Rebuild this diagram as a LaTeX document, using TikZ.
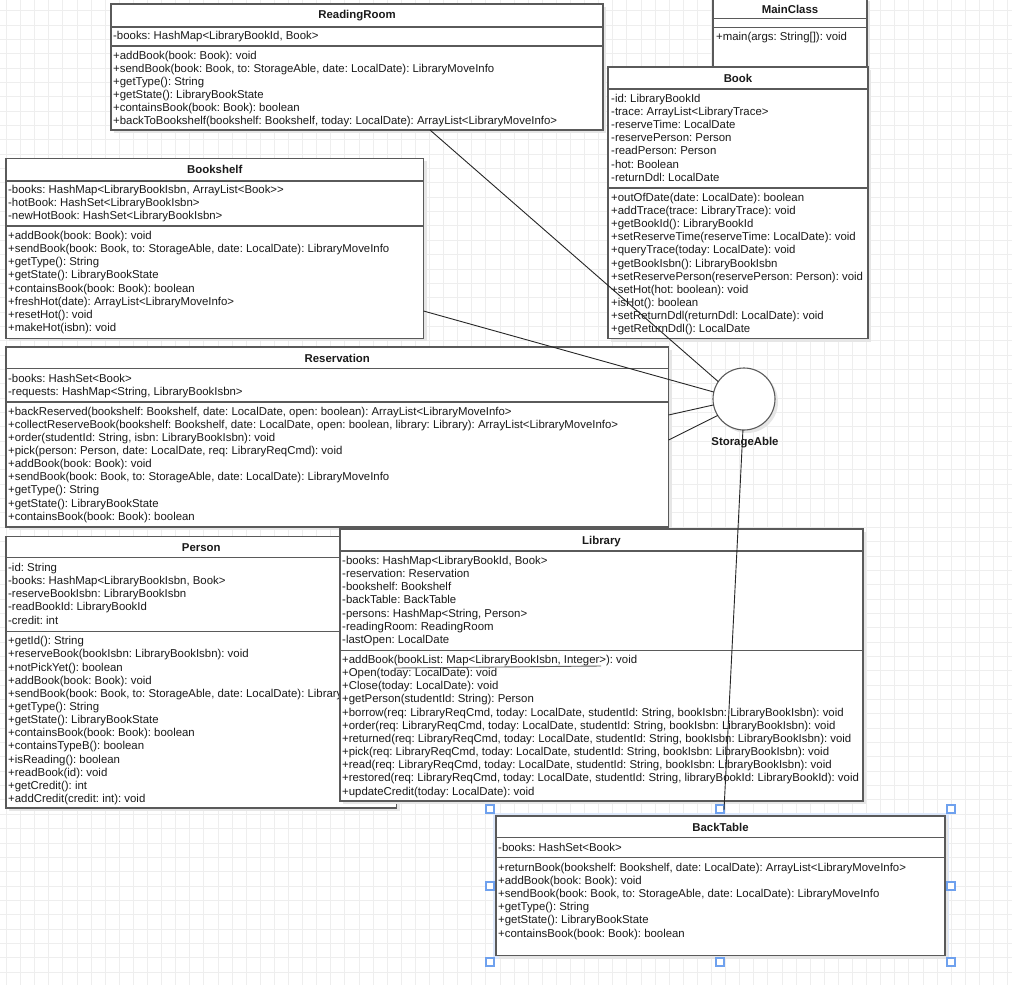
\documentclass[tikz,border=0pt]{standalone}
\usepackage{fontspec}
\setmainfont{Liberation Sans}
\frenchspacing
\usetikzlibrary{calc}
\definecolor{gridc}{HTML}{EEEEEE}
\definecolor{linec}{HTML}{5A5A5A}
\definecolor{txtc}{HTML}{1A1A1A}
\definecolor{shadc}{HTML}{E6E6E6}
\definecolor{selc}{HTML}{6FA1EE}
\definecolor{selhalo}{HTML}{DDE8FB}
\tikzset{
 boxc/.style={draw=linec, fill=white, line width=1.1pt, inner sep=0pt, outer sep=0pt},
 sepl/.style={draw=linec, line width=1.1pt},
 txt/.style={anchor=base west, inner sep=0pt, text=txtc, font=\fontsize{11.4}{13}\selectfont},
 ttl/.style={anchor=base, inner sep=0pt, text=txtc, font=\fontsize{11.4}{13}\selectfont\bfseries},
 conn/.style={draw=black!85, line width=0.9pt},
 handle/.style={draw=selc, fill=white, line width=1.3pt, minimum size=8pt, inner sep=0pt},
}
% name, x1, y1, x2, y2, title, sep1, sep2
\newcommand\umlbox[8]{%
 \fill[shadc] (#2+3,#3+3) rectangle (#4+3,#5+3);
 \node[boxc, anchor=north west, minimum width=#4-#2, minimum height=#5-#3] (#1) at (#2,#3) {};
 \node[ttl] (#1t) at ({(#2+#4)/2}, #3+15) {#6};
 \draw[sepl] (#2,#7) -- (#4,#7);
 \draw[sepl] (#2,#8) -- (#4,#8);
}
% prefix, x, first centre y, list
\newcommand\umllines[4]{%
 \foreach \t [count=\i from 0] in {#4} {\node[txt] (#1\i) at (#2, #3+4+13.15*\i) {\t};}%
}
\begin{document}
\begin{tikzpicture}[x=1pt,y=-1pt]
\useasboundingbox (0,0) rectangle (1012,985);
\fill[white] (0,0) rectangle (1012,985);
% grid
\foreach \k in {0,...,72} {\draw[gridc, line width=1pt] (880.7-14.1*\k+14.1*9,0) -- (880.7-14.1*\k+14.1*9,985);}
\foreach \k in {0,...,69} {\draw[gridc, line width=1pt] (0,10.7+14.35*\k-14.35) -- (1012,10.7+14.35*\k-14.35);}

% MainClass
\umlbox{mc}{713}{-2}{867}{67}{MainClass}{18.3}{27.3}
\umllines{mcm}{716}{36.7}{{+main(args: String[]): void}}

% Book
\umlbox{bk}{608}{67}{868}{338.5}{Book}{89}{188}
\umllines{bka}{611}{98.3}{{-id: LibraryBookId},{-trace: ArrayList<LibraryTrace>},{-reserveTime: LocalDate},{-reservePerson: Person},{-readPerson: Person},{-hot: Boolean},{-returnDdl: LocalDate}}
\umllines{bkm}{611}{197.3}{{+outOfDate(date: LocalDate): boolean},{+addTrace(trace: LibraryTrace): void},{+getBookId(): LibraryBookId},{+setReserveTime(reserveTime: LocalDate): void},{+queryTrace(today: LocalDate): void},{+getBookIsbn(): LibraryBookIsbn},{+setReservePerson(reservePerson: Person): void},{+setHot(hot: boolean): void},{+isHot(): boolean},{+setReturnDdl(returnDdl: LocalDate): void},{+getReturnDdl(): LocalDate}}

% ReadingRoom
\umlbox{rr}{111}{4}{603}{130}{ReadingRoom}{27}{46}
\umllines{rra}{113}{35.3}{{-books: HashMap<LibraryBookId, Book>}}
\umllines{rrm}{113}{55}{{+addBook(book: Book): void},{+sendBook(book: Book, to: StorageAble, date: LocalDate): LibraryMoveInfo},{+getType(): String},{+getState(): LibraryBookState},{+containsBook(book: Book): boolean},{+backToBookshelf(bookshelf: Bookshelf, today: LocalDate): ArrayList<LibraryMoveInfo>}}

% Bookshelf
\umlbox{bs}{6}{158.3}{423.5}{338.3}{Bookshelf}{181}{226}
\umllines{bsa}{8}{189.5}{{-books: HashMap<LibraryBookIsbn, ArrayList<Book>{}>},{-hotBook: HashSet<LibraryBookIsbn>},{-newHotBook: HashSet<LibraryBookIsbn>}}
\umllines{bsm}{8}{235.5}{{+addBook(book: Book): void},{+sendBook(book: Book, to: StorageAble, date: LocalDate): LibraryMoveInfo},{+getType(): String},{+getState(): LibraryBookState},{+containsBook(book: Book): boolean},{+freshHot(date): ArrayList<LibraryMoveInfo>},{+resetHot(): void},{+makeHot(isbn): void}}

% Reservation
\umlbox{rs}{6}{347}{668.5}{527}{Reservation}{368.5}{402}
\umllines{rsa}{8}{378.3}{{-books: HashSet<Book>},{-requests: HashMap<String, LibraryBookIsbn>}}
\umllines{rsm}{8}{411}{{+backReserved(bookshelf: Bookshelf, date: LocalDate, open: boolean): ArrayList<LibraryMoveInfo>},{+collectReserveBook(bookshelf: Bookshelf, date: LocalDate, open: boolean, library: Library): ArrayList<LibraryMoveInfo>},{+order(studentId: String, isbn: LibraryBookIsbn): void},{+pick(person: Person, date: LocalDate, req: LibraryReqCmd): void},{+addBook(book: Book): void},{+sendBook(book: Book, to: StorageAble, date: LocalDate): LibraryMoveInfo},{+getType(): String},{+getState(): LibraryBookState},{+containsBook(book: Book): boolean}}

% Person
\umlbox{ps}{6}{536.5}{396.5}{808}{Person}{557.3}{631.7}
\begin{scope}
\clip (6,536.5) rectangle (339.5,808);
\umllines{psa}{8}{567.5}{{-id: String},{-books: HashMap<LibraryBookIsbn, Book>},{-reserveBookIsbn: LibraryBookIsbn},{-readBookId: LibraryBookId},{-credit: int}}
\umllines{psm}{8}{640.7}{{+getId(): String},{+reserveBook(bookIsbn: LibraryBookIsbn): void},{+notPickYet(): boolean},{+addBook(book: Book): void},{+sendBook(book: Book, to: StorageAble, date: LocalDate): LibraryMoveInfo},{+getType(): String},{+getState(): LibraryBookState},{+containsBook(book: Book): boolean},{+containsTypeB(): boolean},{+isReading(): boolean},{+readBook(id): void},{+getCredit(): int},{+addCredit(credit: int): void}}
\end{scope}

% Library
\umlbox{lb}{340}{529}{863}{801}{Library}{551}{650.5}
\umllines{lba}{342}{560.5}{{-books: HashMap<LibraryBookId, Book>},{-reservation: Reservation},{-bookshelf: Bookshelf},{-backTable: BackTable},{-persons: HashMap<String, Person>},{-readingRoom: ReadingRoom},{-lastOpen: LocalDate}}
\umllines{lbm}{342}{659.5}{{+addBook(bookList: Map<LibraryBookIsbn, Integer>): void},{+Open(today: LocalDate): void},{+Close(today: LocalDate): void},{+getPerson(studentId: String): Person},{+borrow(req: LibraryReqCmd, today: LocalDate, studentId: String, bookIsbn: LibraryBookIsbn): void},{+order(req: LibraryReqCmd, today: LocalDate, studentId: String, bookIsbn: LibraryBookIsbn): void},{+returned(req: LibraryReqCmd, today: LocalDate, studentId: String, bookIsbn: LibraryBookIsbn): void},{+pick(req: LibraryReqCmd, today: LocalDate, studentId: String, bookIsbn: LibraryBookIsbn): void},{+read(req: LibraryReqCmd, today: LocalDate, studentId: String, bookIsbn: LibraryBookIsbn): void},{+restored(req: LibraryReqCmd, today: LocalDate, studentId: String, libraryBookId: LibraryBookId): void},{+updateCredit(today: LocalDate): void}}

% BackTable (selected)
\draw[selhalo, line width=7pt] (496,816) rectangle (945,955.5);
\umlbox{bt}{496}{816}{945}{955.5}{BackTable}{837.7}{857.3}
\umllines{bta}{498}{847.7}{{-books: HashSet<Book>}}
\umllines{btm}{498}{867.3}{{+returnBook(bookshelf: Bookshelf, date: LocalDate): ArrayList<LibraryMoveInfo>},{+addBook(book: Book): void},{+sendBook(book: Book, to: StorageAble, date: LocalDate): LibraryMoveInfo},{+getType(): String},{+getState(): LibraryBookState},{+containsBook(book: Book): boolean}}
\foreach \hx/\hy [count=\j] in {490/809,720/809,951/809,490/886,951/886,490/962,720/962,951/962}
 {\node[handle] (h\j) at (\hx,\hy) {};}

% StorageAble interface
\fill[shadc] (747,402) circle (31);
\node[circle, draw=linec, fill=white, line width=1.1pt, minimum size=62pt, inner sep=0pt, outer sep=0pt] (sa) at (744,399) {};
\node[ttl] (salbl) at (745,445) {StorageAble};

% connectors
\coordinate (rrA) at (430,130);
\coordinate (bsA) at (423.5,311);
\coordinate (rsA) at (668.5,415);
\coordinate (rsB) at (668.5,440);
\coordinate (btA) at (724,810);
\draw[conn] (rrA) -- (sa.146);
\draw[conn] (bsA) -- (sa.167);
\draw[conn] (rsA) -- (sa.191);
\draw[conn] (rsB) -- (sa.212);
\draw[conn] (sa.268) -- (btA);
\coordinate (ulA) at (396,668);
\coordinate (ulB) at (601,666);
\draw[conn, draw=linec] (ulA) -- (ulB);
\end{tikzpicture}
\end{document}
